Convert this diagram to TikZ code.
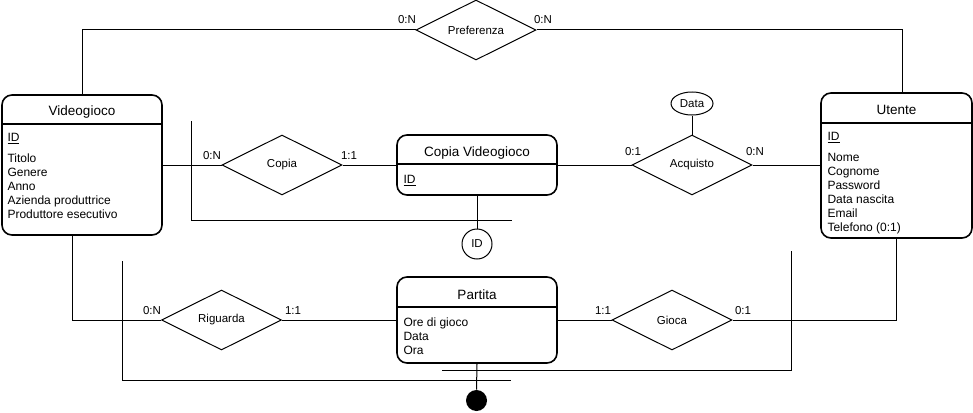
\documentclass[tikz,border=0pt]{standalone}
\usepackage{fontspec}
\setmainfont{Liberation Sans}
\usetikzlibrary{shapes.geometric}
\begin{document}
\begin{tikzpicture}[x=1pt,y=-1pt,line width=1pt,
  entity/.style={draw,line width=1.6pt,rounded corners=10pt,inner sep=0pt},
  divider/.style={line width=1.6pt},
  title/.style={inner sep=0pt,font=\fontsize{13.5}{16}\selectfont},
  attr/.style={inner sep=0pt,align=left,font=\fontsize{12}{14}\selectfont},
  rel/.style={draw,diamond,aspect=2,inner sep=0pt,minimum width=120pt,minimum height=60pt,font=\fontsize{11.5}{13}\selectfont},
  card/.style={inner sep=0pt,font=\fontsize{11.5}{13}\selectfont},
  attrcirc/.style={draw,inner sep=0pt,font=\fontsize{11.5}{13}\selectfont}
]
\useasboundingbox (0,0) rectangle (973,412);

% entities
\node[entity,minimum width=160pt,minimum height=140pt] (vg) at (82,165) {};
\node[entity,minimum width=160pt,minimum height=60pt] (cv) at (477,165) {};
\node[entity,minimum width=151pt,minimum height=145pt] (ut) at (896.5,165.5) {};
\node[entity,minimum width=160pt,minimum height=86pt] (par) at (477,320) {};

\draw[divider] ([yshift=-30pt]vg.north west) -- ([yshift=-30pt]vg.north east);
\draw[divider] ([yshift=-30pt]cv.north west) -- ([yshift=-30pt]cv.north east);
\draw[divider] ([yshift=-31pt]ut.north west) -- ([yshift=-31pt]ut.north east);
\draw[divider] ([yshift=-31pt]par.north west) -- ([yshift=-31pt]par.north east);

\node[title,anchor=base] (vgt) at (82,115.8) {Videogioco};
\node[title,anchor=base] (cvt) at (477,156.5) {Copia Videogioco};
\node[title,anchor=base] (utt) at (896.5,114) {Utente};
\node[title,anchor=base] (part) at (477,299) {Partita};

% attribute lists (base anchor = baseline of the last line)
\node[attr,anchor=base west] (vgid) at (7,141.5) {\underline{ID}};
\node[attr,anchor=base west] (vga) at (7,218.5) {Titolo\\Genere\\Anno\\Azienda produttrice\\Produttore esecutivo};
\node[attr,anchor=base west] (cvid) at (403,183.5) {\underline{ID}};
\node[attr,anchor=base west] (utid) at (827,140.5) {\underline{ID}};
\node[attr,anchor=base west] (uta) at (827,231.2) {Nome\\Cognome\\Password\\Data nascita\\Email\\Telefono (0:1)};
\node[attr,anchor=base west] (para) at (403,354.3) {Ore di gioco\\Data\\Ora};

% relationships
\node[rel] (pref) at (476,30) {Preferenza};
\node[rel] (cop) at (282,165) {Copia};
\node[rel] (acq) at (692,165) {Acquisto};
\node[rel] (rig) at (221.5,320) {Riguarda};
\node[rel] (gio) at (672,320) {Gioca};

% attributes
\node[attrcirc,ellipse,minimum width=42pt,minimum height=23pt] (data) at (692,103.5) {Data};
\node[attrcirc,circle,minimum size=30pt] (idc) at (477,244) {ID};
\node[fill,circle,minimum size=21pt,inner sep=0pt] (dot) at (476.5,400.5) {};

% cardinalities
\node[card] (c1) at (407,20) {0:N};
\node[card] (c2) at (543,20) {0:N};
\node[card] (c3) at (212,156) {0:N};
\node[card] (c4) at (349,156) {1:1};
\node[card] (c5) at (633,152) {0:1};
\node[card] (c6) at (755,152) {0:N};
\node[card] (c7) at (152,311) {0:N};
\node[card] (c8) at (293,311) {1:1};
\node[card] (c9) at (603,311) {1:1};
\node[card] (c10) at (743,311) {0:1};

% connectors
\draw (vg.north) |- (pref.west);
\draw ([xshift=6pt]ut.north) |- (pref.east);
\draw (vg.east) -- (cop.west);
\draw (cop.east) -- (cv.west);
\draw (cv.east) -- (acq.west);
\draw (acq.east) -- (acq.east -| ut.west);
\draw (acq.north) -- (data.south);
\draw (cv.south) -- (idc.north);
\draw ([xshift=-10pt]vg.south) |- (rig.west);
\draw (rig.east) -- (par.west);
\draw (par.east) -- (gio.west);
\draw (ut.south) |- (gio.east);
\draw (par.south) -- (dot.north);

% identifier lines
\coordinate (k1) at (191,121);
\coordinate (k2) at (512,220);
\draw (k1) |- (k2);
\coordinate (k3) at (122,261);
\coordinate (k4) at (511,380);
\draw (k3) |- (k4);
\coordinate (k5) at (442,370);
\coordinate (k6) at (791,251);
\draw (k5) -| (k6);
\end{tikzpicture}
\end{document}
